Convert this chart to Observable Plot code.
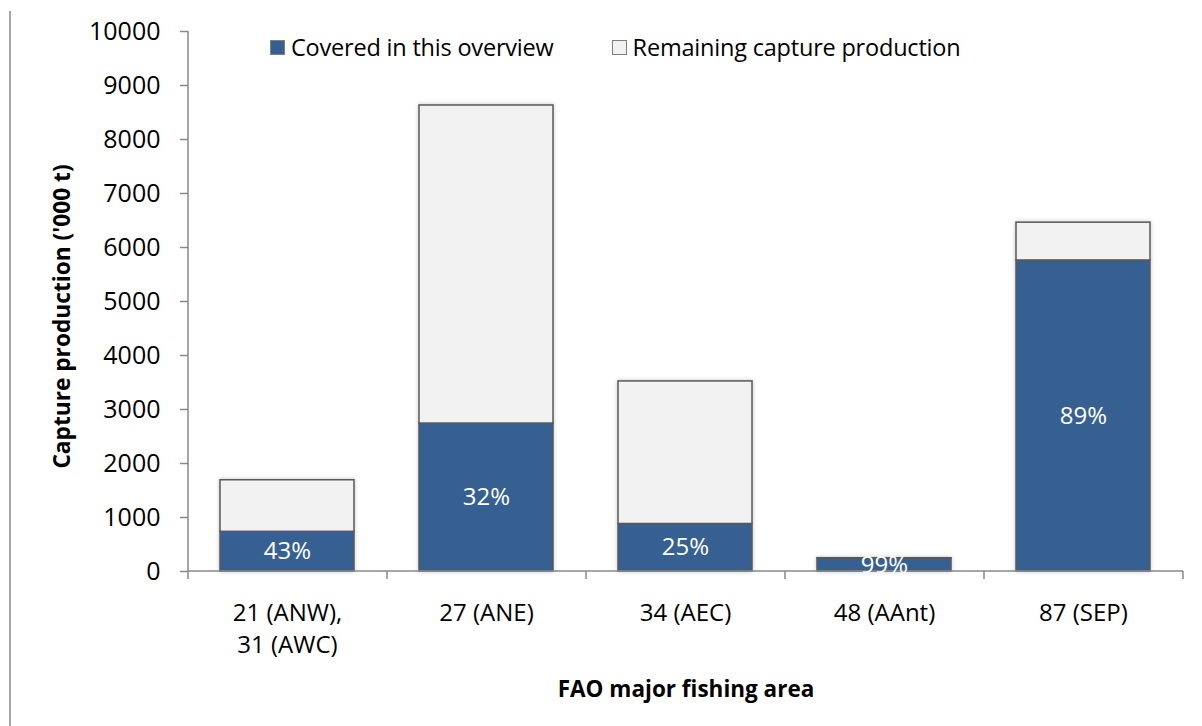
<!DOCTYPE html>
<html>
<head>
<meta charset="utf-8">
<script src="https://cdn.jsdelivr.net/npm/d3@7"></script>
<script src="https://cdn.jsdelivr.net/npm/@observablehq/plot@0.6"></script>
<style>
  body { margin: 0; background: #fff; font-family: "Open Sans", sans-serif; }
  #wrap { position: relative; width: 1202px; height: 726px; overflow: hidden; }
  #edge { position: absolute; left: 9px; top: 11px; bottom: 0; width: 2px; background: #a6a6a6; }
  #legend { position: absolute; left: 270px; top: 31px; display: flex; align-items: center; font-size: 23.5px; color: #000; white-space: nowrap; letter-spacing: -0.2px; }
  #legend .item { display: flex; align-items: center; margin-right: 58px; }
  #legend .sw { width: 15px; height: 15px; border: 1.5px solid #7f7f7f; margin-right: 6px; box-sizing: border-box; }
  svg g[aria-label="bar"] { filter: drop-shadow(0 0 2px rgba(0,0,0,0.22)); }
</style>
</head>
<body>
<div id="wrap">
  <div id="edge"></div>
  <div id="chart"></div>
  <div id="legend"></div>
</div>
<script>
const categories = ["21 (ANW),\n31 (AWC)", "27 (ANE)", "34 (AEC)", "48 (AAnt)", "87 (SEP)"];
const covered = [735, 2740, 880, 242, 5760];
const remaining = [955, 5890, 2640, 4, 700];
const percentLabels = ["43%", "32%", "25%", "99%", "89%"];
const seriesNames = ["Covered in this overview", "Remaining capture production"];
const seriesColors = ["#376092", "#f2f2f2"];
const yTicks = [0, 1000, 2000, 3000, 4000, 5000, 6000, 7000, 8000, 9000, 10000];

const rows = [];
categories.forEach((c, i) => {
  rows.push({cat: c, series: seriesNames[0], value: covered[i]});
  rows.push({cat: c, series: seriesNames[1], value: remaining[i]});
});
const labelRows = categories.map((c, i) => ({cat: c, mid: covered[i] / 2, label: percentLabels[i]}));

const axisColor = "#898989";
const axesMark = (index, scales, values, dims) => {
  const {marginLeft: ml, marginRight: mr, marginTop: mt, marginBottom: mb, width, height} = dims;
  const g = d3.create("svg:g").attr("stroke", axisColor).attr("stroke-width", 1.5);
  const y0 = height - mb;
  g.append("line").attr("x1", ml).attr("x2", ml).attr("y1", mt).attr("y2", y0);
  g.append("line").attr("x1", ml).attr("x2", width - mr).attr("y1", y0).attr("y2", y0);
  const n = categories.length;
  const step = (width - ml - mr) / n;
  for (let i = 0; i <= n; i++) {
    const x = ml + i * step;
    g.append("line").attr("x1", x).attr("x2", x).attr("y1", y0).attr("y2", y0 + 8);
  }
  return g.node();
};

const chart = Plot.plot({
  width: 1202,
  height: 726,
  marginLeft: 188,
  marginRight: 19,
  marginTop: 31,
  marginBottom: 155,
  style: {fontFamily: "Open Sans, sans-serif", fontSize: "24px", color: "#000", background: "transparent"},
  x: {domain: categories, paddingInner: 0.325, paddingOuter: 0.1625, label: null},
  y: {domain: [0, 10000], label: null},
  color: {domain: seriesNames, range: seriesColors},
  marks: [
    Plot.axisY({ticks: yTicks, tickSize: 8, tickPadding: 20, tickFormat: d3.format("d"), stroke: axisColor, strokeWidth: 1.5, fontSize: 25, fill: "#000", strokeOpacity: 1, label: null}),
    Plot.axisX({tickSize: 0, tickPadding: 26, fontSize: 24, fill: "#000", lineHeight: 1.35, label: null}),
    Plot.barY(rows, {x: "cat", y: "value", fill: "series", stroke: "#595959", strokeWidth: 1.5}),
    axesMark,
    Plot.text(labelRows, {x: "cat", y: "mid", text: "label", fill: "#fff", fontSize: 24}),
    Plot.text(["Capture production ('000 t)"], {frameAnchor: "left", textAnchor: "middle", rotate: -90, dx: -126, dy: 15, fontSize: 22.7, fontWeight: "bold", fill: "#000"}),
    Plot.text(["FAO major fishing area"], {frameAnchor: "bottom", dy: 125, fontSize: 22.5, fontWeight: "bold", fill: "#000"})
  ]
});
document.getElementById("chart").appendChild(chart);

const legend = document.getElementById("legend");
seriesNames.forEach((s, i) => {
  const item = document.createElement("div");
  item.className = "item";
  const sw = document.createElement("div");
  sw.className = "sw";
  sw.style.background = seriesColors[i];
  const t = document.createElement("span");
  t.textContent = s;
  item.appendChild(sw);
  item.appendChild(t);
  legend.appendChild(item);
});
</script>
</body>
</html>
